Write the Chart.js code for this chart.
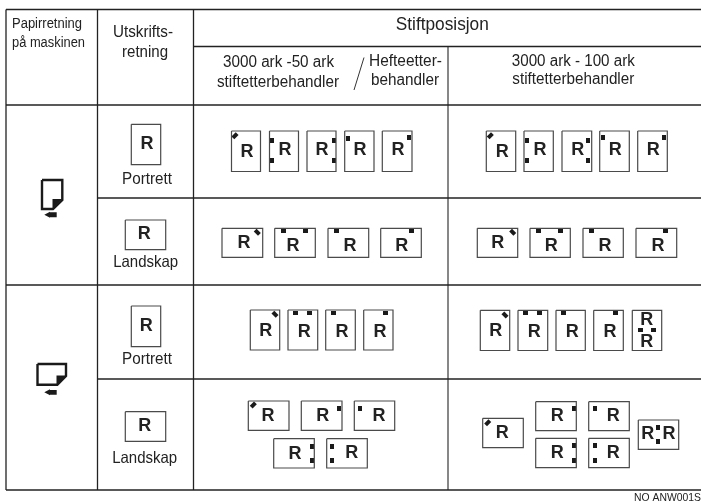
<!DOCTYPE html>
<html>
<head>
<meta charset="utf-8">
<style>
  html, body { margin: 0; padding: 0; background: #fff; }
  canvas { display: block; }
</style>
<script src="https://cdn.jsdelivr.net/npm/chart.js@4/dist/chart.umd.js"></script>
</head>
<body>
<canvas id="chart" width="701" height="502"></canvas>
<script>
// table rules: [x1, y1, x2, y2], values on the page-sized axes
const tableRules = [
  [6, 9.5, 701, 9.5], [193.5, 46.5, 701, 46.5], [6, 105, 701, 105],
  [97.5, 198, 701, 198], [6, 285, 701, 285], [97.5, 379, 701, 379], [6, 490, 701, 490],
  [6, 9.5, 6, 490], [97.5, 9.5, 97.5, 490], [193.5, 9.5, 193.5, 490]
];
const middleRule = [448, 46.5, 448, 490];
const headerSlash = [364, 57.5, 354, 90];

// sheets: [left, top, right, bottom]
const sheets = [
  [131.3, 124.3, 160.7, 164.7], [125.3, 220, 165.7, 249.7], [131.3, 306, 160.7, 346.7], [125.3, 411.7, 165.7, 441.3],
  [231.5, 131, 260.5, 171.5], [269.5, 131, 298.5, 171.5], [307, 131, 336, 171.5], [344.7, 131, 374, 171.5], [382.3, 131, 412, 171.5],
  [486.3, 131, 515.7, 171.5], [524, 131, 553.3, 171.5], [562, 131, 591.7, 171.5], [599.7, 131, 629.3, 171.5], [637.7, 131, 667.3, 171.5],
  [222, 228.3, 262.7, 257.3], [274.7, 228.3, 315.3, 257.3], [328, 228.3, 368.7, 257.3], [380.7, 228.3, 421.3, 257.3],
  [477.3, 228.3, 517.7, 257.3], [530, 228.3, 570.3, 257.3], [583, 228.3, 623.3, 257.3], [636, 228.3, 676.7, 257.3],
  [250.3, 310, 279.7, 350], [288, 310, 317.7, 350], [325.7, 310, 355.3, 350], [363.7, 310, 393, 350],
  [480.3, 310.3, 509.7, 350.5], [518, 310.3, 547.7, 350.5], [556, 310.3, 585.3, 350.5], [593.7, 310.3, 623.3, 350.5], [632.3, 310.3, 661.7, 350.5],
  [248.3, 401, 289, 430.3], [301.3, 401, 342, 430.3], [354.3, 401, 394.7, 430.3],
  [273.7, 438.7, 314.3, 468], [326.7, 438.7, 367.3, 468],
  [482.7, 418.3, 523.3, 447.7], [535.7, 401.7, 576.3, 430.7], [588.7, 401.7, 629.3, 430.7],
  [535.7, 438.3, 576.3, 467.7], [588.7, 438.3, 629.3, 467.7], [638.3, 420, 678.7, 449.3]
];

// the letter R printed on each sheet: [x, y]
const sheetLetters = [
  [147, 144], [144.3, 234.3], [146.3, 326], [144.7, 426.3],
  [247, 152], [285, 150], [322, 150], [360, 150], [398, 150],
  [502.3, 152], [540, 150], [577.7, 150], [615.3, 150], [653.3, 150],
  [244, 243], [293, 246], [350, 246], [401.7, 246],
  [497.7, 243], [551.3, 246], [605, 246], [658, 246],
  [265.7, 330.7], [304.3, 331.7], [342, 331.7], [380, 331.7],
  [495.7, 330.7], [534.3, 332], [572.3, 332], [610, 332], [646.7, 320], [646.7, 342.3],
  [268, 415.7], [322.7, 416], [379, 416], [295, 454], [351.7, 453.5],
  [502.3, 433], [557.3, 416.5], [613.3, 416], [557.3, 453], [613.3, 453], [647.7, 434], [669, 434]
];

// staple marks, grouped by how they sit on the sheet: [x, y]
const slantLeftStaples = [[235, 135.7], [490.3, 135.7], [253.3, 405], [487.7, 422.7]];
const slantRightStaples = [[257.3, 232.3], [512.7, 232.3], [275, 314.3], [505, 315]];
const wideStaples = [
  [283, 230.7], [305, 230.7], [336, 230.7], [411, 230.7],
  [538.3, 230.7], [560.3, 230.7], [591, 230.7], [665.7, 230.7],
  [295.3, 312.7], [309.7, 312.7], [333.3, 312.7], [385, 312.7],
  [525.7, 313], [539.3, 313], [563.7, 313], [615, 313], [640, 330.3], [653.7, 330.3]
];
const tallStaples = [
  [271.7, 140.5], [271.7, 160.5], [334, 140.5], [334, 160.5], [347.7, 138], [409, 137.7],
  [527.3, 140.5], [527.3, 160.5], [588.3, 140.5], [588.3, 160.5], [602.7, 137.5], [664.3, 137.5],
  [339.3, 408.3], [360, 408.3], [311.7, 446], [311.7, 460.3], [332.3, 446], [332.3, 460.3],
  [573.7, 408.7], [594.7, 408.7], [573.7, 445.3], [573.7, 460], [594.7, 445.3], [594.7, 460],
  [658.3, 427], [658.3, 441.3]
];

// paper icons with the folded corner, and the feed arrows under them
const paperOutlines = [
  [[42, 180], [62.3, 180], [62.3, 200], [53, 209], [42, 209], [42, 180]],
  [[37.5, 364], [66, 364], [66, 376], [57.3, 384.7], [37.5, 384.7], [37.5, 364]]
];
const paperFolds = [
  [[62.3, 199], [52.5, 199], [52.5, 209], [62.3, 199]],
  [[66, 375.5], [56.5, 375.5], [56.5, 384.7], [66, 375.5]]
];
const feedArrows = [
  [[44.3, 214.7], [50, 211.7], [50, 212.3], [56.7, 212.3], [56.7, 217.2], [50, 217.2], [50, 217.7], [44.3, 214.7]],
  [[44.3, 392.3], [50, 389.3], [50, 389.9], [56.7, 389.9], [56.7, 394.8], [50, 394.8], [50, 395.3], [44.3, 392.3]]
];

// texts: [text, x, y, font px, drawn width, align]
const labels = [
  ['Papirretning', 12, 24, 15.5, 70, 'left'],
  ['på maskinen', 12, 43, 15.5, 73, 'left'],
  ['Utskrifts-', 113, 32.5, 16.5, 60, 'left'],
  ['retning', 145, 52, 16.5, 46, 'center'],
  ['Stiftposisjon', 442.3, 25, 18.5, 93, 'center'],
  ['3000 ark -50 ark', 278.5, 63, 16, 111, 'center'],
  ['stiftetterbehandler', 278, 82.7, 16, 122, 'center'],
  ['Hefteetter-', 369, 61.7, 16, 73, 'left'],
  ['behandler', 371, 80.3, 16, 68, 'left'],
  ['3000 ark - 100 ark', 573.3, 62, 16, 123, 'center'],
  ['stiftetterbehandler', 573.3, 80, 16, 122, 'center'],
  ['Portrett', 147, 179, 16.5, 50, 'center'],
  ['Landskap', 145.7, 262.3, 16.5, 65, 'center'],
  ['Portrett', 147, 359.3, 16.5, 50, 'center'],
  ['Landskap', 144.7, 458.3, 16.5, 65, 'center'],
  ['NO ANW001S', 701, 497.5, 11.5, 67, 'right']
];

const FONT = '"Liberation Sans", Arial, sans-serif';

function toPoints(list) {
  return list.map(p => ({ x: p[0], y: p[1] }));
}

function lineSet(data, color, width) {
  return {
    data: data,
    showLine: true,
    borderColor: color,
    borderWidth: width,
    pointRadius: 0,
    tension: 0,
    fill: false
  };
}

function shapeSet(points) {
  return {
    data: toPoints(points),
    showLine: true,
    borderWidth: 0,
    backgroundColor: '#1a1a1a',
    pointRadius: 0,
    tension: 0,
    fill: 'shape'
  };
}

function stapleImage(w, h) {
  const img = document.createElement('canvas');
  img.width = w;
  img.height = h;
  const g = img.getContext('2d');
  g.fillStyle = '#1a1a1a';
  g.fillRect(0, 0, w, h);
  return img;
}

function stapleSet(points, image, rotation) {
  return {
    data: toPoints(points),
    showLine: false,
    pointStyle: image,
    pointRotation: rotation,
    pointRadius: 3
  };
}

const datasets = [];
tableRules.forEach(r => {
  datasets.push(lineSet([{ x: r[0], y: r[1] }, { x: r[2], y: r[3] }], '#222', 1.3));
});
datasets.push(lineSet([{ x: middleRule[0], y: middleRule[1] }, { x: middleRule[2], y: middleRule[3] }], '#555', 1.4));
datasets.push(lineSet([{ x: headerSlash[0], y: headerSlash[1] }, { x: headerSlash[2], y: headerSlash[3] }], '#333', 1));
sheets.forEach(s => {
  const box = [[s[0], s[1]], [s[2], s[1]], [s[2], s[3]], [s[0], s[3]], [s[0], s[1]]];
  datasets.push(lineSet(toPoints(box), '#4a4a4a', 1.2));
});
paperFolds.forEach(p => datasets.push(shapeSet(p)));
feedArrows.forEach(p => datasets.push(shapeSet(p)));
paperOutlines.forEach(p => datasets.push(lineSet(toPoints(p), '#1a1a1a', 2.4)));
datasets.push(stapleSet(slantLeftStaples, stapleImage(6, 4), -45));
datasets.push(stapleSet(slantRightStaples, stapleImage(6, 4), 45));
datasets.push(stapleSet(wideStaples, stapleImage(5, 4), 0));
datasets.push(stapleSet(tallStaples, stapleImage(4, 5), 0));

// letters and headings go through the same scales as the marks
const textPlugin = {
  id: 'tableText',
  afterDatasetsDraw(chart) {
    const ctx = chart.ctx;
    const xs = chart.scales.x;
    const ys = chart.scales.y;
    ctx.save();
    ctx.textBaseline = 'middle';
    ctx.fillStyle = '#222';
    ctx.textAlign = 'center';
    ctx.font = 'bold 18px ' + FONT;
    sheetLetters.forEach(p => {
      ctx.fillText('R', xs.getPixelForValue(p[0]), ys.getPixelForValue(p[1]));
    });
    labels.forEach(l => {
      ctx.font = l[3] + 'px ' + FONT;
      ctx.textAlign = l[5];
      ctx.fillText(l[0], xs.getPixelForValue(l[1]), ys.getPixelForValue(l[2]), l[4]);
    });
    ctx.restore();
  }
};

new Chart(document.getElementById('chart').getContext('2d'), {
  type: 'scatter',
  data: { datasets: datasets },
  options: {
    responsive: false,
    animation: false,
    layout: { padding: 0, autoPadding: false },
    plugins: { legend: { display: false }, tooltip: { enabled: false } },
    scales: {
      x: { type: 'linear', display: false, min: 0, max: 701 },
      y: { type: 'linear', display: false, min: 0, max: 502, reverse: true }
    }
  },
  plugins: [textPlugin]
});
</script>
</body>
</html>
